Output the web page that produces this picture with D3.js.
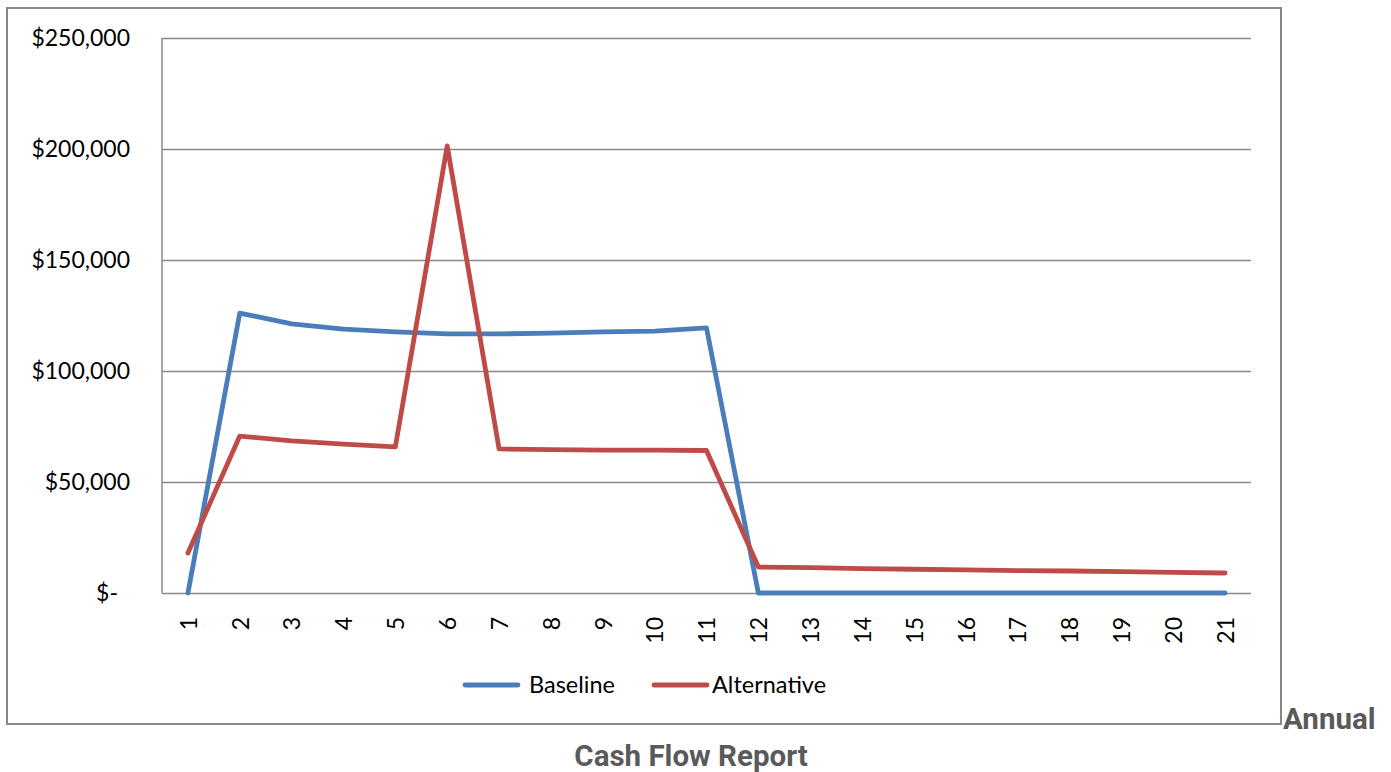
<!DOCTYPE html>
<html>
<head>
<meta charset="utf-8">
<script src="https://cdn.jsdelivr.net/npm/d3@7"></script>
<style>
  html, body { margin: 0; padding: 0; background: #fff; }
  .tick text { font-family: Lato, "Open Sans", sans-serif; font-size: 23px; fill: #000; }
  .legend text { font-family: Lato, "Open Sans", sans-serif; font-size: 23.5px; fill: #000; }
  .caption { font-family: Roboto, sans-serif; font-weight: bold; font-size: 29.5px; fill: #5a5a5a; }
</style>
</head>
<body>
<svg id="chart" width="1391" height="772"></svg>
<script>
const years = d3.range(1, 22).map(String);
const baseline = [0, 126100, 121200, 118900, 117600, 116700, 116700, 117100, 117600, 118000, 119400,
  0, 0, 0, 0, 0, 0, 0, 0, 0, 0];
const alternative = [18000, 70700, 68500, 67100, 65800, 201400, 64900, 64600, 64400, 64400, 64200,
  11700, 11400, 11000, 10700, 10400, 10100, 9900, 9600, 9300, 9000];
const yTicks = [0, 50000, 100000, 150000, 200000, 250000];
const seriesNames = ['Baseline', 'Alternative'];
const seriesColors = ['#4a7ebb', '#be4b48'];

const PLOT = {left: 162, top: 38, width: 1089, height: 555};

const svg = d3.select('#chart');

// outer chart frame
svg.append('rect')
  .attr('x', 7).attr('y', 8)
  .attr('width', 1274).attr('height', 716)
  .attr('fill', 'none')
  .attr('stroke', '#888')
  .attr('stroke-width', 2);

const scale = {
  x: d3.scalePoint().domain(years).range([0, PLOT.width]).padding(0.5),
  y: d3.scaleLinear().domain([0, 250000]).range([PLOT.height, 0]),
};

const g = svg.append('g').attr('transform', `translate(${PLOT.left},${PLOT.top})`);

// y axis with gridlines
const yAxis = g.append('g')
  .call(d3.axisLeft(scale.y)
    .tickValues(yTicks)
    .tickSize(-PLOT.width)
    .tickPadding(32)
    .tickFormat((d) => d === 0 ? '$-' : d3.format('$,')(d)));
yAxis.select('.domain').remove();
yAxis.selectAll('.tick line').attr('stroke', '#898989').attr('stroke-width', 1.5);
yAxis.selectAll('.tick text').filter((d) => d === 0).attr('x', -44);

// left vertical axis line
g.append('line')
  .attr('x1', 0).attr('x2', 0)
  .attr('y1', 0).attr('y2', PLOT.height)
  .attr('stroke', '#898989').attr('stroke-width', 1.5);

// x axis
const xAxis = g.append('g')
  .attr('transform', `translate(0,${PLOT.height})`)
  .call(d3.axisBottom(scale.x).tickSize(0));
xAxis.select('.domain').remove();
xAxis.selectAll('.tick text')
  .attr('transform', 'rotate(-90)')
  .attr('x', -24)
  .attr('y', 0)
  .attr('dy', '0.36em')
  .attr('text-anchor', 'end');

// lines
const line = d3.line()
  .x((d, i) => scale.x(years[i]))
  .y((d) => scale.y(d));

[baseline, alternative].forEach((values, i) => {
  g.append('path')
    .datum(values)
    .attr('fill', 'none')
    .attr('stroke', seriesColors[i])
    .attr('stroke-width', 4.8)
    .attr('stroke-linejoin', 'round')
    .attr('stroke-linecap', 'round')
    .attr('d', line);
});

// legend
const legend = svg.append('g').attr('class', 'legend').attr('transform', 'translate(465,685)');
const legendX = [0, 189];
seriesNames.forEach((name, i) => {
  const item = legend.append('g').attr('transform', `translate(${legendX[i]},0)`);
  item.append('line')
    .attr('x1', 0).attr('x2', 53)
    .attr('stroke', seriesColors[i])
    .attr('stroke-width', 4.8)
    .attr('stroke-linecap', 'round');
  item.append('text')
    .attr('x', i === 0 ? 64 : 58)
    .attr('dy', '0.36em')
    .text(name);
});

// caption text around the chart
svg.append('text').attr('class', 'caption')
  .attr('x', 1283).attr('y', 729)
  .text('Annual');
svg.append('text').attr('class', 'caption')
  .attr('x', 691).attr('y', 766)
  .attr('text-anchor', 'middle')
  .text('Cash Flow Report');
</script>
</body>
</html>
